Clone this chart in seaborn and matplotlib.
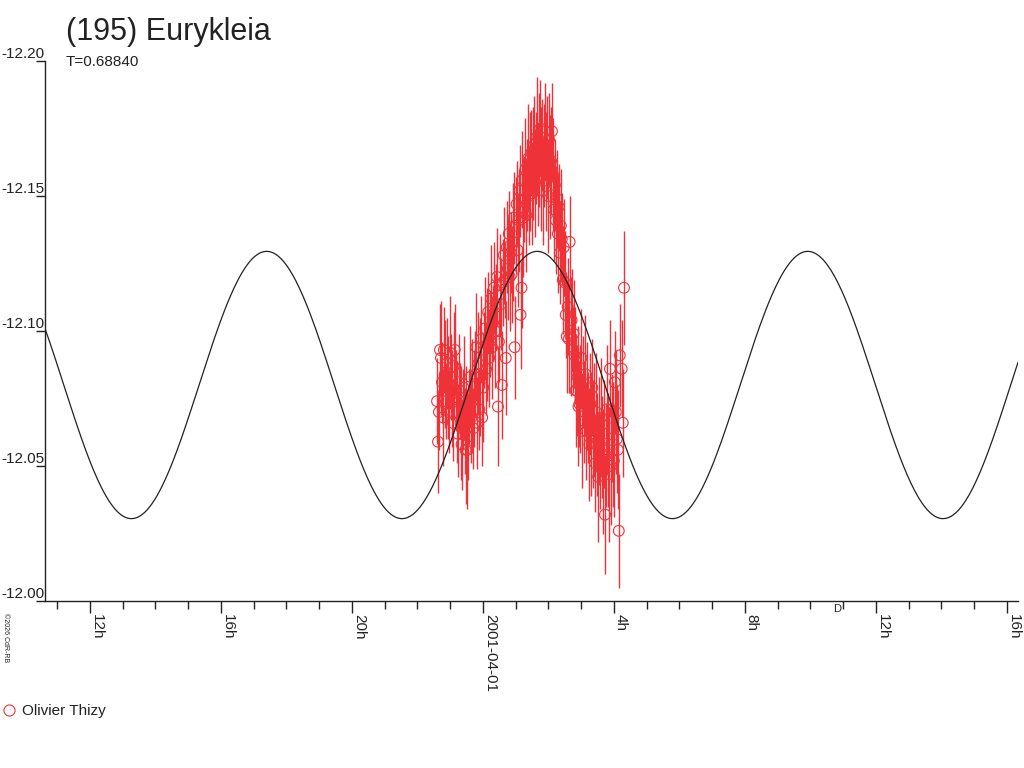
"""
Lightcurve plot for (195) Eurykleia
- photometry points with error bars
- Fourier fit curve (period T in days)
"""

import numpy as np
import pandas as pd
import matplotlib
matplotlib.use("Agg")
import matplotlib.pyplot as plt
import seaborn as sns
from matplotlib.lines import Line2D
from matplotlib.ticker import FixedLocator

# Chart text
TITLE = "(195) Eurykleia"
PERIOD_LABEL = "T=0.68840"
OBSERVER = "Olivier Thizy"
COPYRIGHT = "©2026 CdR-RB"

# Fit (period from the label, in days; curve has two equal maxima per period)
PERIOD_DAYS = 0.68840
FIT_MEAN = -12.080
FIT_AMP = 0.0495
FIT_PEAK_H = 1.66  # hours after 2001-04-01 00:00 UT

# Axes (x in hours relative to 2001-04-01 00:00 UT)
X_MIN, X_MAX = -13.37, 16.34
Y_BOTTOM, Y_TOP = -12.00, -12.20
X_TICKS = [-12, -8, -4, 0, 4, 8, 12, 16]
X_TICK_LABELS = ["12h", "16h", "20h", "2001-04-01", "4h", "8h", "12h", "16h"]
X_MINOR = list(range(-13, 17))
Y_TICKS = [-12.20, -12.15, -12.10, -12.05, -12.00]
MOON_MARK_H = 10.81

# Observations (hours, reduced magnitude, error)
hours = [
    -1.40, -1.37, -1.34, -1.31, -1.28, -1.25, -1.22, -1.19, -1.16, -1.13,
    -1.10, -1.07, -1.04, -1.01, -0.98, -0.95, -0.92, -0.89, -0.86, -0.83,
    -0.80, -0.77, -0.74, -0.71, -0.68, -0.65, -0.62, -0.59, -0.56, -0.53,
    -0.50, -0.47, -0.44, -0.41, -0.38, -0.35, -0.32, -0.29, -0.26, -0.23,
    -0.20, -0.17, -0.14, -0.11, -0.08, -0.05, -0.02, 0.01, 0.04, 0.07,
    0.10, 0.13, 0.16, 0.19, 0.22, 0.25, 0.28, 0.31, 0.34, 0.37,
    0.40, 0.43, 0.46, 0.49, 0.52, 0.55, 0.58, 0.61, 0.64, 0.67,
    0.70, 0.73, 0.76, 0.79, 0.82, 0.85, 0.88, 0.91, 0.94, 0.97,
    1.00, 1.03, 1.06, 1.09, 1.12, 1.15, 1.18, 1.21, 1.24, 1.27,
    1.30, 1.33, 1.36, 1.39, 1.42, 1.45, 1.48, 1.51, 1.54, 1.57,
    1.60, 1.63, 1.66, 1.69, 1.72, 1.75, 1.78, 1.81, 1.84, 1.87,
    1.90, 1.93, 1.96, 1.99, 2.02, 2.05, 2.08, 2.11, 2.14, 2.17,
    2.20, 2.23, 2.26, 2.29, 2.32, 2.35, 2.38, 2.41, 2.44, 2.47,
    2.50, 2.53, 2.56, 2.59, 2.62, 2.65, 2.68, 2.71, 2.74, 2.77,
    2.80, 2.83, 2.86, 2.89, 2.92, 2.95, 2.98, 3.01, 3.04, 3.07,
    3.10, 3.13, 3.16, 3.19, 3.22, 3.25, 3.28, 3.31, 3.34, 3.37,
    3.40, 3.43, 3.46, 3.49, 3.52, 3.55, 3.58, 3.61, 3.64, 3.67,
    3.70, 3.73, 3.76, 3.79, 3.82, 3.85, 3.88, 3.91, 3.94, 3.97,
    4.00, 4.03, 4.06, 4.09, 4.12, 4.15, 4.18, 4.24, 4.27, 4.31,
]
mags = [
    -12.074, -12.059, -12.070, -12.093, -12.090, -12.081, -12.068, -12.093, -12.084, -12.074,
    -12.088, -12.079, -12.070, -12.092, -12.083, -12.075, -12.066, -12.087, -12.093, -12.078,
    -12.070, -12.062, -12.081, -12.074, -12.066, -12.058, -12.071, -12.079, -12.063, -12.056,
    -12.069, -12.056, -12.061, -12.072, -12.083, -12.068, -12.076, -12.064, -12.075, -12.084,
    -12.094, -12.066, -12.088, -12.071, -12.083, -12.097, -12.068, -12.079, -12.093, -12.101,
    -12.086, -12.095, -12.107, -12.090, -12.099, -12.112, -12.094, -12.103, -12.116, -12.100,
    -12.109, -12.120, -12.072, -12.096, -12.117, -12.110, -12.080, -12.118, -12.128, -12.119,
    -12.090, -12.131, -12.123, -12.136, -12.120, -12.129, -12.121, -12.133, -12.142, -12.094,
    -12.139, -12.147, -12.130, -12.141, -12.152, -12.106, -12.116, -12.156, -12.142, -12.149,
    -12.160, -12.143, -12.154, -12.164, -12.150, -12.159, -12.166, -12.151, -12.162, -12.169,
    -12.155, -12.164, -12.172, -12.158, -12.167, -12.175, -12.160, -12.169, -12.152, -12.165,
    -12.174, -12.159, -12.168, -12.150, -12.171, -12.157, -12.163, -12.174, -12.158, -12.145,
    -12.154, -12.141, -12.149, -12.136, -12.146, -12.129, -12.139, -12.134, -12.119, -12.131,
    -12.118, -12.106, -12.098, -12.109, -12.097, -12.133, -12.098, -12.104, -12.093, -12.099,
    -12.091, -12.078, -12.078, -12.083, -12.072, -12.073, -12.075, -12.090, -12.063, -12.081,
    -12.070, -12.084, -12.063, -12.076, -12.068, -12.058, -12.073, -12.062, -12.079, -12.062,
    -12.067, -12.051, -12.070, -12.058, -12.046, -12.063, -12.052, -12.068, -12.057, -12.048,
    -12.062, -12.032, -12.054, -12.071, -12.056, -12.047, -12.086, -12.050, -12.064, -12.058,
    -12.052, -12.081, -12.070, -12.060, -12.056, -12.026, -12.091, -12.086, -12.066, -12.116,
]
errs = [
    0.016, 0.019, 0.014, 0.017, 0.021, 0.015, 0.018, 0.016, 0.020, 0.014,
    0.017, 0.019, 0.015, 0.021, 0.016, 0.018, 0.014, 0.020, 0.017, 0.015,
    0.019, 0.016, 0.018, 0.014, 0.021, 0.017, 0.015, 0.019, 0.016, 0.020,
    0.018, 0.022, 0.016, 0.014, 0.019, 0.017, 0.021, 0.015, 0.018, 0.016,
    0.020, 0.017, 0.019, 0.015, 0.022, 0.016, 0.018, 0.020, 0.014, 0.019,
    0.017, 0.021, 0.015, 0.018, 0.016, 0.020, 0.019, 0.014, 0.017, 0.021,
    0.016, 0.018, 0.022, 0.015, 0.019, 0.017, 0.020, 0.016, 0.018, 0.014,
    0.021, 0.017, 0.019, 0.016, 0.020, 0.015, 0.018, 0.022, 0.017, 0.019,
    0.018, 0.016, 0.021, 0.019, 0.017, 0.020, 0.015, 0.018, 0.022, 0.016,
    0.019, 0.021, 0.017, 0.020, 0.018, 0.022, 0.016, 0.019, 0.021, 0.018,
    0.020, 0.017, 0.022, 0.019, 0.021, 0.018, 0.023, 0.017, 0.020, 0.019,
    0.018, 0.022, 0.019, 0.021, 0.017, 0.023, 0.020, 0.018, 0.021, 0.019,
    0.017, 0.020, 0.018, 0.022, 0.016, 0.019, 0.021, 0.017, 0.020, 0.018,
    0.019, 0.016, 0.021, 0.018, 0.020, 0.017, 0.022, 0.019, 0.016, 0.020,
    0.018, 0.021, 0.017, 0.019, 0.022, 0.016, 0.020, 0.018, 0.021, 0.017,
    0.019, 0.022, 0.018, 0.020, 0.017, 0.021, 0.019, 0.023, 0.018, 0.020,
    0.021, 0.018, 0.022, 0.019, 0.024, 0.020, 0.018, 0.022, 0.019, 0.023,
    0.020, 0.022, 0.019, 0.024, 0.021, 0.025, 0.018, 0.022, 0.020, 0.023,
    0.021, 0.019, 0.023, 0.020, 0.022, 0.021, 0.019, 0.018, 0.020, 0.021,
]

RED = "#ee3238"
INK = "#222222"
W, H = 1024, 768


def fit_curve():
    """Evaluate the fitted lightcurve over the plotted time range"""
    t = np.linspace(X_MIN, X_MAX, 800)
    half_period_h = PERIOD_DAYS * 24 / 2
    m = FIT_MEAN - FIT_AMP * np.cos(2 * np.pi * (t - FIT_PEAK_H) / half_period_h)
    return pd.DataFrame({"hours": t, "mag": m})


def main():
    sns.set_style("white")
    plt.rcParams["font.family"] = ["Liberation Sans", "DejaVu Sans"]

    obs = pd.DataFrame({"hours": hours, "mag": mags, "err": errs})
    fit = fit_curve()

    fig = plt.figure(figsize=(W / 100, H / 100), dpi=100)
    ax = fig.add_axes([45 / W, 1 - 601 / H, (1018 - 45) / W, (601 - 61) / H])

    # Error bars and open circles
    ax.errorbar(obs["hours"], obs["mag"], yerr=obs["err"], fmt="none",
                ecolor=RED, elinewidth=1.0, capsize=0, zorder=2)
    sns.scatterplot(data=obs, x="hours", y="mag", marker="o", s=60,
                    facecolor="none", edgecolor=RED, linewidth=0.8,
                    ax=ax, zorder=2, legend=False)

    # Fit curve
    sns.lineplot(data=fit, x="hours", y="mag", color=INK, linewidth=0.9,
                 ax=ax, zorder=3, estimator=None, sort=False)

    ax.set_xlim(X_MIN, X_MAX)
    ax.set_ylim(Y_BOTTOM, Y_TOP)
    ax.set_xlabel("")
    ax.set_ylabel("")

    for side in ["top", "right"]:
        ax.spines[side].set_visible(False)
    for side in ["left", "bottom"]:
        ax.spines[side].set_color(INK)
        ax.spines[side].set_linewidth(1.0)

    # X ticks
    ax.xaxis.set_major_locator(FixedLocator(X_TICKS))
    ax.xaxis.set_minor_locator(FixedLocator(X_MINOR))
    ax.set_xticklabels(X_TICK_LABELS, rotation=-90, ha="left", va="top",
                       fontsize=11, color=INK)
    ax.tick_params(axis="x", which="major", direction="out", length=8.6,
                   width=1.0, color=INK, pad=1, bottom=True)
    ax.tick_params(axis="x", which="minor", direction="out", length=5.8,
                   width=1.0, color=INK, bottom=True)

    # Y ticks: label sits on top of the tick line
    ax.set_yticks(Y_TICKS)
    ax.set_yticklabels([])
    ax.tick_params(axis="y", direction="out", length=6.5, width=1.0,
                   color=INK, left=True)
    for v in Y_TICKS:
        ax.text(0, v, f"{v:.2f}", transform=ax.get_yaxis_transform(),
                ha="right", va="bottom", fontsize=11, color=INK)

    ax.annotate("D", xy=(MOON_MARK_H, Y_BOTTOM), xytext=(0, -2),
                textcoords="offset points", fontsize=8, ha="center",
                va="top", color=INK)

    # Header
    fig.text(66 / W, 1 - 40 / H, TITLE, fontsize=22, color=INK, va="baseline")
    fig.text(66 / W, 1 - 66 / H, PERIOD_LABEL, fontsize=11, color=INK, va="baseline")

    # Copyright
    fig.text(2 / W, 1 - 613 / H, COPYRIGHT, rotation=-90, fontsize=5,
             color=INK, ha="left", va="top")

    # Legend
    handle = Line2D([0], [0], marker="o", ls="none", mfc="none", mec=RED,
                    ms=8, mew=0.8)
    fig.legend(handles=[handle], labels=[OBSERVER], loc="center left",
               bbox_to_anchor=(0.0, 1 - 711 / H), frameon=False,
               handlelength=0.9, handletextpad=0.4, borderaxespad=0,
               borderpad=0.15, fontsize=11, labelcolor=INK)

    fig.savefig("out.png", dpi=100)


if __name__ == "__main__":
    main()
